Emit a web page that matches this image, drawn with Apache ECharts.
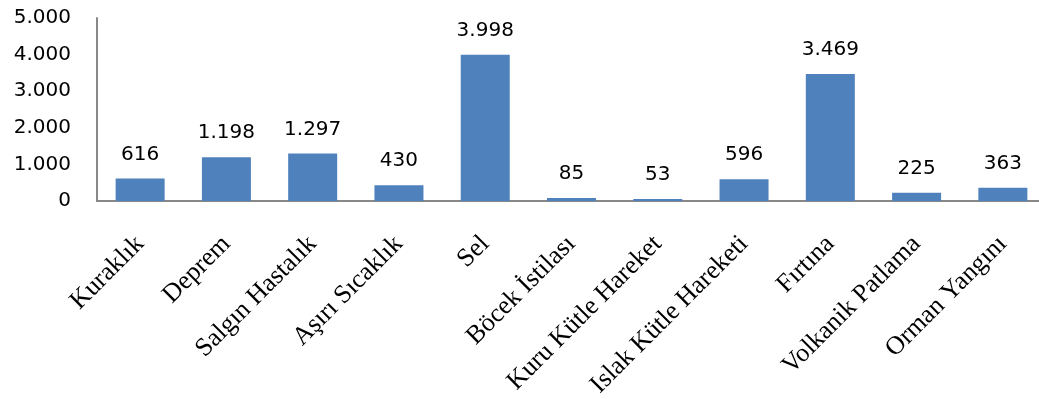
<!DOCTYPE html>
<html>
<head>
<meta charset="utf-8">
<script src="https://cdn.jsdelivr.net/npm/echarts@6/dist/echarts.min.js"></script>
<style>
  html, body { margin: 0; padding: 0; background: #fff; }
  #chart { width: 1039px; height: 399px; }
</style>
</head>
<body>
<div id="chart"></div>
<script>
// Afet türlerine göre olay sayıları
const categories = [
  'Kuraklık', 'Deprem', 'Salgın Hastalık', 'Aşırı Sıcaklık', 'Sel',
  'Böcek İstilası', 'Kuru Kütle Hareket', 'Islak Kütle Hareketi',
  'Fırtına', 'Volkanik Patlama', 'Orman Yangını'
];
const values = [616, 1198, 1297, 430, 3998, 85, 53, 596, 3469, 225, 363];
const yTicks = [0, 1000, 2000, 3000, 4000, 5000];

// Binlik ayırıcı olarak nokta kullanılır (ör. 3.998)
function fmt(v) {
  return String(v).replace(/\B(?=(\d{3})+(?!\d))/g, '.');
}

const chart = echarts.init(document.getElementById('chart'), null, { renderer: 'canvas' });
chart.setOption({
  animation: false,
  backgroundColor: '#ffffff',
  grid: {
    left: 97, top: 18, right: -7, bottom: 198,
    containLabel: false,
    outerBoundsMode: 'none'
  },
  xAxis: {
    type: 'category',
    data: categories,
    axisLine: { show: true, lineStyle: { color: '#888888', width: 2 } },
    axisTick: { show: false },
    axisLabel: {
      interval: 0,
      rotate: 45,
      margin: 39,
      color: '#000000',
      fontFamily: 'Liberation Serif',
      fontSize: 26
    }
  },
  yAxis: {
    type: 'value',
    min: yTicks[0],
    max: yTicks[yTicks.length - 1],
    interval: 1000,
    axisLine: { show: true, lineStyle: { color: '#888888', width: 2 } },
    axisTick: { show: false },
    splitLine: { show: false },
    axisLabel: {
      margin: 26,
      color: '#000000',
      fontFamily: 'DejaVu Sans',
      fontSize: 20,
      formatter: fmt
    }
  },
  series: [{
    type: 'bar',
    data: values,
    barWidth: 49,
    itemStyle: { color: '#4F81BD' },
    label: {
      show: true,
      position: 'top',
      distance: 14,
      color: '#000000',
      fontFamily: 'DejaVu Sans',
      fontSize: 20,
      formatter: p => fmt(p.value)
    }
  }]
});
</script>
</body>
</html>
